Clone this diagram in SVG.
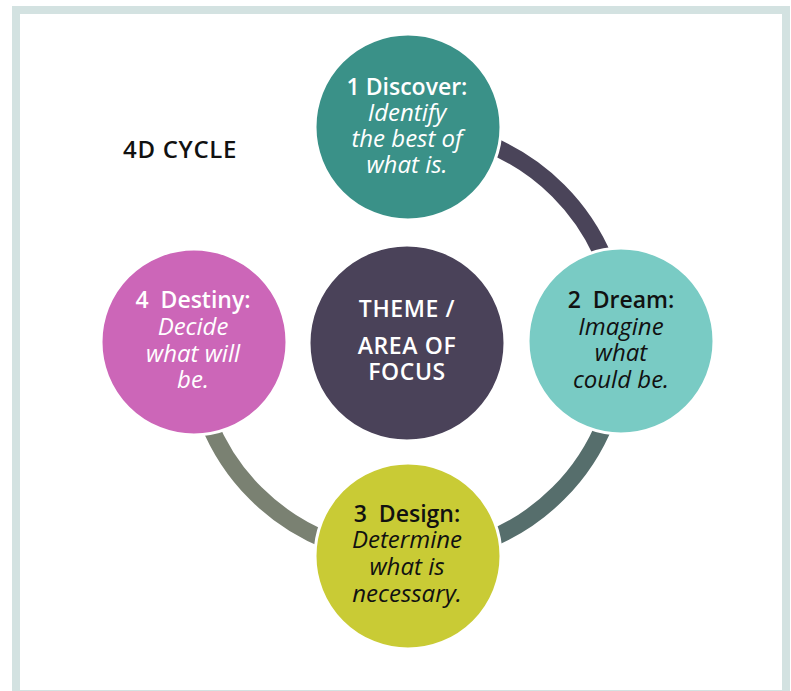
<svg xmlns="http://www.w3.org/2000/svg" width="791" height="691" viewBox="0 0 791 691">
<style>
.node circle{stroke:#ffffff;stroke-width:3}
.h{font-family:"Open Sans","Noto Sans","Liberation Sans",sans-serif;font-weight:600;font-size:23px;text-anchor:middle;white-space:pre}
.i{font-family:"Open Sans","Noto Sans","Liberation Sans",sans-serif;font-style:italic;font-weight:400;font-size:24px;text-anchor:middle}
.t{font-family:"Open Sans","Noto Sans","Liberation Sans",sans-serif;font-weight:600;font-size:23px;letter-spacing:0.6px;text-anchor:middle}
.w{fill:#ffffff}
.k{fill:#111111}
.arc{fill:none;stroke-width:17}
</style>
<rect x="0" y="0" width="791" height="691" fill="#ffffff"/>
<rect x="16" y="10" width="770" height="684" fill="#ffffff" stroke="#d3e2e1" stroke-width="8"/>
<text x="123" y="158" font-family="Open Sans, Noto Sans, Liberation Sans, sans-serif" font-weight="600" font-size="24" letter-spacing="0.7" fill="#111111">4D CYCLE</text>
<g id="connectors">
<path class="arc" stroke="#4a4459" d="M 407 128 A 214 214 0 0 1 621 342"/>
<path class="arc" stroke="#566e6c" d="M 621 342 A 214 214 0 0 1 407 556"/>
<path class="arc" stroke="#7a8172" d="M 407 556 A 214 214 0 0 1 193 342"/>
</g>
<g id="theme" class="node">
<circle cx="407" cy="343" r="98" fill="#4a4259" stroke="none"/>
<text class="t w" x="407" y="317">THEME /</text>
<text class="t w" x="407" y="354">AREA OF</text>
<text class="t w" x="407" y="380">FOCUS</text>
</g>
<g id="discover" class="node">
<circle cx="408" cy="127" r="93" fill="#3a9188"/>
<text class="h w" x="407" y="95">1 Discover:</text>
<text class="i w" x="407" y="121">Identify</text>
<text class="i w" x="407" y="147">the best of</text>
<text class="i w" x="407" y="173">what is.</text>
</g>
<g id="dream" class="node">
<circle cx="621" cy="341" r="93" fill="#79cbc4"/>
<text class="h k" x="621" y="308">2  Dream:</text>
<text class="i k" x="621" y="335">Imagine</text>
<text class="i k" x="621" y="361">what</text>
<text class="i k" x="621" y="388">could be.</text>
</g>
<g id="design" class="node">
<circle cx="408" cy="556" r="93" fill="#c9cb35"/>
<text class="h k" x="407" y="522">3  Design:</text>
<text class="i k" x="407" y="548">Determine</text>
<text class="i k" x="407" y="575">what is</text>
<text class="i k" x="407" y="602">necessary.</text>
</g>
<g id="destiny" class="node">
<circle cx="194" cy="342" r="93" fill="#cc66b8"/>
<text class="h w" x="193" y="308">4  Destiny:</text>
<text class="i w" x="193" y="335">Decide</text>
<text class="i w" x="193" y="362">what will</text>
<text class="i w" x="193" y="388">be.</text>
</g>
</svg>
